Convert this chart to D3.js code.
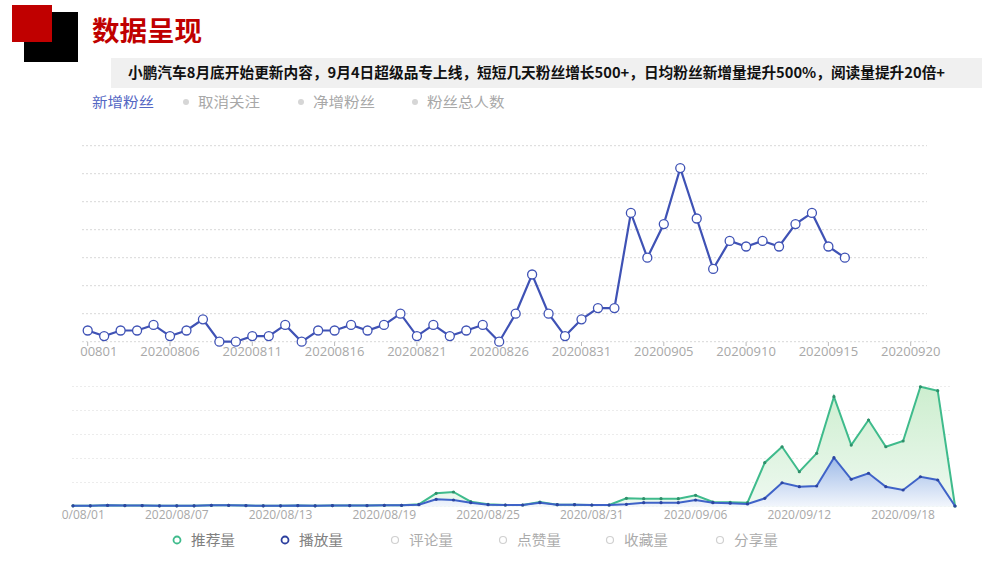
<!DOCTYPE html>
<html>
<head>
<meta charset="utf-8">
<script src="https://cdn.jsdelivr.net/npm/d3@7"></script>
<style>
  body { margin: 0; background: #fff; }
  svg { display: block; font-family: "Noto Sans CJK SC", "Noto Sans", sans-serif; }
</style>
</head>
<body>
<svg id="chart" width="1000" height="562"></svg>
<script>
// header texts
const titleText = "数据呈现";
const subtitleText = "小鹏汽车8月底开始更新内容，9月4日超级品专上线，短短几天粉丝增长500+，日均粉丝新增量提升500%，阅读量提升20倍+";

// top chart: new followers per day, 20200801 .. 20200916
const topLegend = ["新增粉丝", "取消关注", "净增粉丝", "粉丝总人数"];
const topTickLabels = ["20200801", "20200806", "20200811", "20200816", "20200821", "20200826",
                       "20200831", "20200905", "20200910", "20200915", "20200920"];
const newFans = [2, 1, 2, 2, 3, 1, 2, 4, 0, 0, 1, 1, 3, 0, 2, 2, 3, 2, 3, 5, 1, 3, 1, 2, 3, 0,
                 5, 12, 5, 1, 4, 6, 6, 23, 15, 21, 31, 22, 13, 18, 17, 18, 17, 21, 23, 17, 15];

// bottom chart: 2020/08/01 .. 2020/09/21
const botLegend = ["推荐量", "播放量", "评论量", "点赞量", "收藏量", "分享量"];
const botTickLabels = ["2020/08/01", "2020/08/07", "2020/08/13", "2020/08/19", "2020/08/25",
                       "2020/08/31", "2020/09/06", "2020/09/12", "2020/09/18"];
const recommend = [60, 60, 100, 80, 80, 60, 60, 60, 100, 100, 80, 60, 60, 80, 60, 80, 80, 80, 100, 100,
                   180, 1100, 1210, 400, 180, 125, 125, 375, 150, 150, 125, 125, 680, 650, 650, 650,
                   930, 375, 350, 320, 3650, 4980, 2900, 4430, 9150, 5125, 7210, 4980, 5460, 9980, 9650, 40];
const plays = [60, 60, 100, 80, 80, 60, 60, 60, 100, 100, 80, 60, 60, 80, 60, 80, 80, 80, 100, 100,
               150, 600, 540, 320, 150, 125, 125, 320, 150, 150, 125, 125, 180, 320, 320, 320,
               540, 320, 270, 210, 680, 1980, 1650, 1710, 4070, 2270, 2770, 1650, 1375, 2480, 2210, 40];

const svg = d3.select("#chart");

// ---- header
svg.append("rect").attr("x", 24).attr("y", 12).attr("width", 54).attr("height", 50).attr("fill", "#000");
svg.append("rect").attr("x", 12).attr("y", 5).attr("width", 40).attr("height", 37).attr("fill", "#c00000");
svg.append("text")
   .attr("x", 92).attr("y", 41)
   .attr("font-size", 27).attr("font-weight", "bold").attr("fill", "#c00000")
   .attr("textLength", 110).attr("lengthAdjust", "spacingAndGlyphs")
   .text(titleText);

svg.append("rect").attr("x", 111).attr("y", 58).attr("width", 871).attr("height", 30).attr("fill", "#f0f0f0");
svg.append("text")
   .attr("x", 128).attr("y", 78)
   .attr("font-size", 14.5).attr("font-weight", "bold").attr("fill", "#111")
   .attr("textLength", 817).attr("lengthAdjust", "spacingAndGlyphs")
   .text(subtitleText);

const defs = svg.append("defs");
defs.append("clipPath").attr("id", "clipTop")
    .append("rect").attr("x", 80).attr("y", 0).attr("width", 920).attr("height", 562);
defs.append("clipPath").attr("id", "clipBot")
    .append("rect").attr("x", 61).attr("y", 0).attr("width", 939).attr("height", 562);

// ---- top legend
const topLegendX = [92, 198, 313, 427];
const topLegendG = svg.append("g");
topLegend.forEach((name, i) => {
	if (i > 0) {
		topLegendG.append("circle").attr("cx", topLegendX[i] - 12).attr("cy", 102).attr("r", 3)
		          .attr("fill", "#d6d6d6");
	}
	topLegendG.append("text")
	          .attr("x", topLegendX[i]).attr("y", 107)
	          .attr("font-size", 13.5)
	          .attr("fill", i === 0 ? "#5567c4" : "#a8a8a8")
	          .attr("textLength", name.length * 15.5).attr("lengthAdjust", "spacingAndGlyphs")
	          .text(name);
});

// ---- top chart
const blueTop = "#3f52b5";
const xTop = d3.scaleLinear().domain([0, 50]).range([87.7, 910.7]);
const yTop = d3.scaleLinear().domain([0, 35]).range([341.7, 145.7]);

const topG = svg.append("g");
topG.selectAll(".gridTop")
    .data(d3.range(0, 36, 5))
    .enter()
    .append("line")
    .attr("class", "gridTop")
    .attr("x1", 82).attr("x2", 927)
    .attr("y1", d => yTop(d)).attr("y2", d => yTop(d))
    .attr("stroke", "#d8d8d8").attr("stroke-width", 1).attr("stroke-dasharray", "2,2");

const topAxisG = topG.append("g").attr("clip-path", "url(#clipTop)");
topAxisG.selectAll(".tickTop")
    .data(topTickLabels)
    .enter()
    .append("line")
    .attr("x1", (d, i) => xTop(i * 5)).attr("x2", (d, i) => xTop(i * 5))
    .attr("y1", 342).attr("y2", 346)
    .attr("stroke", "#bbb");
topAxisG.selectAll(".labelTop")
    .data(topTickLabels)
    .enter()
    .append("text")
    .attr("class", "labelTop")
    .attr("x", (d, i) => xTop(i * 5)).attr("y", 356)
    .attr("text-anchor", "middle")
    .attr("font-size", 13).attr("fill", "#a8a8a8")
    .attr("font-family", "'Open Sans', sans-serif")
    .text(d => d);

topG.append("path")
    .datum(newFans)
    .attr("d", d3.line().x((d, i) => xTop(i)).y(d => yTop(d)))
    .attr("fill", "none").attr("stroke", blueTop).attr("stroke-width", 2.2);
topG.selectAll(".dotTop")
    .data(newFans)
    .enter()
    .append("circle")
    .attr("class", "dotTop")
    .attr("cx", (d, i) => xTop(i)).attr("cy", d => yTop(d))
    .attr("r", 4.5)
    .attr("fill", "#fff").attr("stroke", blueTop).attr("stroke-width", 1.3);

// ---- bottom chart
const green = "#3fbb8c";
const blueBot = "#3f63c8";
const xBot = d3.scaleLinear().domain([0, 51]).range([73, 955]);
const yBot = d3.scaleLinear().domain([0, 10000]).range([506.5, 386.5]);

const gGreen = defs.append("linearGradient").attr("id", "gGreen").attr("x1", 0).attr("x2", 0).attr("y1", 0).attr("y2", 1);
gGreen.append("stop").attr("offset", "0%").attr("stop-color", "#cdeecf");
gGreen.append("stop").attr("offset", "100%").attr("stop-color", "#eef9f0");
const gBlue = defs.append("linearGradient").attr("id", "gBlue").attr("x1", 0).attr("x2", 0).attr("y1", 0).attr("y2", 1);
gBlue.append("stop").attr("offset", "0%").attr("stop-color", "#9fbbe8");
gBlue.append("stop").attr("offset", "100%").attr("stop-color", "#f2f6fc");

const botG = svg.append("g");
botG.selectAll(".gridBot")
    .data(d3.range(0, 10001, 2000))
    .enter()
    .append("line")
    .attr("class", "gridBot")
    .attr("x1", 72).attr("x2", 950)
    .attr("y1", d => yBot(d)).attr("y2", d => yBot(d))
    .attr("stroke", "#ececec").attr("stroke-width", 1).attr("stroke-dasharray", "2,2");

const area = d3.area().x((d, i) => xBot(i)).y0(yBot(0)).y1(d => yBot(d));
const line = d3.line().x((d, i) => xBot(i)).y(d => yBot(d));

botG.append("path").datum(recommend).attr("d", area).attr("fill", "url(#gGreen)");
botG.append("path").datum(plays).attr("d", area).attr("fill", "url(#gBlue)");

[[recommend, green], [plays, blueBot]].forEach(([series, color]) => {
	botG.append("path")
	    .datum(series)
	    .attr("d", line)
	    .attr("fill", "none").attr("stroke", color).attr("stroke-width", 2);
	botG.append("g")
	    .selectAll("circle")
	    .data(series)
	    .enter()
	    .append("circle")
	    .attr("cx", (d, i) => xBot(i)).attr("cy", d => yBot(d))
	    .attr("r", 1.6)
	    .attr("fill", color === green ? "#2f8f6a" : "#2c45a0");
});

botG.append("g").attr("clip-path", "url(#clipBot)")
    .selectAll(".labelBot")
    .data(botTickLabels)
    .enter()
    .append("text")
    .attr("class", "labelBot")
    .attr("x", (d, i) => xBot(i * 6)).attr("y", 519)
    .attr("text-anchor", "middle")
    .attr("font-size", 12).attr("fill", "#a8a8a8")
    .attr("font-family", "'Open Sans', sans-serif")
    .text(d => d);

// ---- bottom legend
const botLegendX = [177, 285, 395, 503, 610, 720];
const botLegendColor = [green, "#2c3f9e", "#d0d0d0", "#d0d0d0", "#d0d0d0", "#d0d0d0"];
const botLegendG = svg.append("g");
botLegend.forEach((name, i) => {
	botLegendG.append("circle")
	          .attr("cx", botLegendX[i]).attr("cy", 540).attr("r", 3.5)
	          .attr("fill", "#fff").attr("stroke", botLegendColor[i]).attr("stroke-width", i < 2 ? 1.8 : 1.2);
	botLegendG.append("text")
	          .attr("x", botLegendX[i] + 14).attr("y", 545)
	          .attr("font-size", 13.5)
	          .attr("fill", i < 2 ? "#808080" : "#ababab")
	          .attr("textLength", 44).attr("lengthAdjust", "spacingAndGlyphs")
	          .text(name);
});
</script>
</body>
</html>
